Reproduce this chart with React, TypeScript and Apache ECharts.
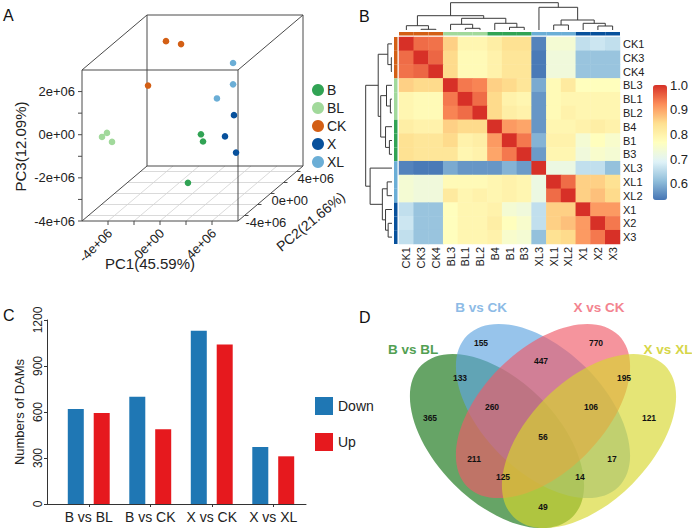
import React, { useEffect, useRef } from "react";
import * as echarts from "echarts";

const FONT = "'Liberation Sans', Arial, Helvetica, sans-serif";
const INK = "#222";

// ---------- A: PCA scores, [PC1, PC2, PC3] ----------
const pcaGroupNames = ["B", "BL", "CK", "X", "XL"];
const pcaGroupColors = ["#31a354", "#a1d99b", "#d35f15", "#08519c", "#6baed6"];
const pcaB = [[0.15e6, 1.0e6, -1.51e6], [0.81e6, 0.0, -1.59e6], [1.15e6, -3.0e6, -2.74e6]];
const pcaBL = [[-4.96e6, -4.0e6, -0.36e6], [-4.83e6, -3.5e6, -0.3e6], [-3.94e6, -4.5e6, -0.46e6]];
const pcaCK = [[-3.79e6, 3.5e6, 2.17e6], [-2.38e6, 3.0e6, 2.16e6], [-2.92e6, -1.0e6, 1.26e6]];
const pcaX = [[2.19e6, 2.0e6, -0.88e6], [2.0e6, 1.0e6, -1.61e6], [3.85e6, -1.0e6, -1.85e6]];
const pcaXL = [[1.12e6, 4.0e6, 1.03e6], [2.12e6, 2.0e6, 0.55e6], [1.38e6, 1.0e6, 0.15e6]];
const pcaPoints = [pcaB, pcaBL, pcaCK, pcaX, pcaXL];

const pc1Range = [-6e6, 6e6];
const pc2Range = [-5e6, 5e6];
const pc3Range = [-4e6, 3e6];
const pc1Ticks = [-4e6, -2e6, 0, 2e6, 4e6];
const pc2Ticks = [-4e6, -2e6, 0, 2e6, 4e6];
const pc3Ticks = [-4e6, -3e6, -2e6, -1e6, 0, 1e6, 2e6];
const pc1TickLabels = [-4e6, 0, 4e6];
const pc2TickLabels = [-4e6, 0, 4e6];
const pc3TickLabels = [-4e6, -2e6, 0, 2e6];
const pcAxisTitles = ["PC1(45.59%)", "PC2(21.66%)", "PC3(12.09%)"];

// ---------- B: sample correlation heatmap ----------
const hmLabels = ["CK1", "CK3", "CK4", "BL3", "BL1", "BL2", "B4", "B1", "B3", "XL3", "XL1", "XL2", "X1", "X2", "X3"];
const corr = [
  [1, 0.95, 0.945, 0.86, 0.79, 0.79, 0.81, 0.84, 0.84, 0.55, 0.74, 0.74, 0.66, 0.67, 0.66],
  [0.95, 1, 0.955, 0.85, 0.78, 0.78, 0.8, 0.83, 0.83, 0.54, 0.73, 0.73, 0.62, 0.62, 0.62],
  [0.945, 0.955, 1, 0.85, 0.78, 0.78, 0.8, 0.83, 0.83, 0.54, 0.73, 0.73, 0.62, 0.62, 0.62],
  [0.86, 0.85, 0.85, 1, 0.94, 0.93, 0.86, 0.85, 0.83, 0.59, 0.78, 0.82, 0.77, 0.77, 0.77],
  [0.79, 0.78, 0.78, 0.94, 1, 0.95, 0.85, 0.8, 0.79, 0.57, 0.78, 0.79, 0.79, 0.79, 0.79],
  [0.79, 0.78, 0.78, 0.93, 0.95, 1, 0.85, 0.81, 0.8, 0.57, 0.78, 0.8, 0.79, 0.79, 0.79],
  [0.81, 0.8, 0.8, 0.86, 0.85, 0.85, 1, 0.91, 0.9, 0.57, 0.79, 0.79, 0.8, 0.81, 0.8],
  [0.84, 0.83, 0.83, 0.85, 0.8, 0.81, 0.91, 1, 0.94, 0.6, 0.8, 0.8, 0.74, 0.77, 0.75],
  [0.84, 0.83, 0.83, 0.83, 0.79, 0.8, 0.9, 0.94, 1, 0.575, 0.79, 0.79, 0.73, 0.75, 0.74],
  [0.55, 0.54, 0.54, 0.59, 0.57, 0.57, 0.57, 0.6, 0.575, 1, 0.72, 0.72, 0.66, 0.66, 0.615],
  [0.74, 0.73, 0.73, 0.78, 0.78, 0.78, 0.79, 0.8, 0.79, 0.72, 1, 0.95, 0.86, 0.86, 0.84],
  [0.74, 0.73, 0.73, 0.82, 0.79, 0.8, 0.79, 0.8, 0.79, 0.72, 0.95, 1, 0.86, 0.875, 0.85],
  [0.66, 0.62, 0.62, 0.77, 0.79, 0.79, 0.8, 0.74, 0.73, 0.66, 0.86, 0.86, 1, 0.91, 0.91],
  [0.67, 0.62, 0.62, 0.77, 0.79, 0.79, 0.81, 0.77, 0.75, 0.66, 0.86, 0.875, 0.91, 1, 0.94],
  [0.66, 0.62, 0.62, 0.77, 0.79, 0.79, 0.8, 0.75, 0.74, 0.615, 0.84, 0.85, 0.91, 0.94, 1],
];
const corrMin = 0.535;
const corrMax = 1.0;
const rdylbu = ["#4575b4", "#91bfdb", "#e0f3f8", "#ffffbf", "#fee090", "#fc8d59", "#d73027"];
// hierarchical clustering: [left, right, height]; "#k" refers to merge k
const dendroMerges: [string, string, number][] = [
  ["CK3", "CK4", 0.7],
  ["CK1", "#0", 4.3],
  ["BL1", "BL2", 1.7],
  ["BL3", "#2", 5.7],
  ["B1", "B3", 2.7],
  ["B4", "#4", 6.7],
  ["#3", "#5", 11.7],
  ["#1", "#6", 14.3],
  ["XL1", "XL2", 5],
  ["X2", "X3", 4],
  ["X1", "#9", 6.7],
  ["#8", "#10", 10],
  ["XL3", "#11", 22.7],
  ["#7", "#12", 27.3],
];

// ---------- C: differential metabolites ----------
const comparisons = ["B vs BL", "B vs CK", "X vs CK", "X vs XL"];
const downCounts = [620, 700, 1130, 372];
const upCounts = [593, 488, 1040, 311];

// ---------- D: Venn ----------
const vennSetNames = ["B vs BL", "B vs CK", "X vs CK", "X vs XL"];
const vennCounts = [365, 155, 770, 121, 133, 447, 195, 260, 106, 56, 211, 17, 125, 14, 49];

// layout of the Venn diagram (pixels)
const vennEllipses = [
  { cx: 497, cy: 441, rot: -Math.PI / 4, fill: "rgba(20,115,20,0.65)" },
  { cx: 543, cy: 411, rot: -Math.PI / 4, fill: "rgba(95,165,225,0.65)" },
  { cx: 543, cy: 411, rot: Math.PI / 4, fill: "rgba(240,90,105,0.65)" },
  { cx: 589, cy: 441, rot: Math.PI / 4, fill: "rgba(215,215,45,0.65)" },
];
const vennRx = 107;
const vennRy = 61;
const vennTitlePos = [[413, 349], [481, 307], [599, 307], [668, 349]];
const vennTitleColors = ["#52a052", "#8dbbe6", "#f3838f", "#d6d648"];
const vennCountPos = [
  [430, 418], [481, 343], [596, 343], [649, 418], [460, 378], [541, 361], [624, 378],
  [492, 407], [591, 407], [543, 437], [474, 459], [612, 459], [503, 477], [580, 477], [543, 507],
];

// ---------- helpers ----------
const FRONT_W = 156 / 221;
const FRONT_H = 151 / 206;

function project(p: number[]): number[] {
  const fx = (p[0] - pc1Range[0]) / (pc1Range[1] - pc1Range[0]);
  const fy = (p[1] - pc2Range[0]) / (pc2Range[1] - pc2Range[0]);
  const fz = (p[2] - pc3Range[0]) / (pc3Range[1] - pc3Range[0]);
  return [fx * FRONT_W + fy * (1 - FRONT_W), fz * FRONT_H + fy * (1 - FRONT_H)];
}

function sci(v: number): string {
  if (v === 0) return "0e+00";
  return (v < 0 ? "-" : "") + Math.abs(v / 1e6) + "e+06";
}

function groupColor(label: string): string {
  const g = label.replace(/\d+$/, "");
  return pcaGroupColors[pcaGroupNames.indexOf(g)];
}

function dendroSegments() {
  const pos: Record<string, number> = {};
  const hgt: Record<string, number> = {};
  hmLabels.forEach((l, i) => {
    pos[l] = i + 0.5;
    hgt[l] = 0;
  });
  const segs: number[][] = [];
  dendroMerges.forEach(([a, b, h], k) => {
    segs.push([pos[a], pos[b], hgt[a], hgt[b], h]);
    pos["#" + k] = (pos[a] + pos[b]) / 2;
    hgt["#" + k] = h;
  });
  return segs;
}

function text(x: number, y: number, s: string, size: number, extra: any = {}) {
  return {
    type: "text",
    x,
    y,
    rotation: extra.rotation || 0,
    style: {
      text: s,
      fill: extra.fill || INK,
      fontSize: size,
      fontFamily: FONT,
      fontWeight: extra.fontWeight || "normal",
      align: extra.align || "center",
      verticalAlign: extra.verticalAlign || "middle",
    },
  };
}

function frameRenderItem(_params: any, api: any) {
  const P = (x: number, y: number, z: number) => api.coord(project([x, y, z]));
  const children: any[] = [];
  const line = (a: number[], b: number[], stroke: string, w: number) =>
    children.push({
      type: "line",
      shape: { x1: a[0], y1: a[1], x2: b[0], y2: b[1] },
      style: { stroke, lineWidth: w },
    });
  const [x0, x1] = pc1Range;
  const [y0, y1] = pc2Range;
  const [z0, z1] = pc3Range;
  // floor grid
  pc1Ticks.forEach((x) => line(P(x, y0, z0), P(x, y1, z0), "#d0d0d0", 0.8));
  pc2Ticks.forEach((y) => line(P(x0, y, z0), P(x1, y, z0), "#d0d0d0", 0.8));
  // box edges
  const edge = "#4a4a4a";
  [z0, z1].forEach((z) => {
    line(P(x0, y0, z), P(x1, y0, z), edge, 1);
    line(P(x0, y1, z), P(x1, y1, z), edge, 1);
    line(P(x0, y0, z), P(x0, y1, z), edge, 1);
    line(P(x1, y0, z), P(x1, y1, z), edge, 1);
  });
  [x0, x1].forEach((x) =>
    [y0, y1].forEach((y) => line(P(x, y, z0), P(x, y, z1), edge, 1))
  );
  // PC3 axis (front left vertical)
  pc3Ticks.forEach((z) => {
    const p = P(x0, y0, z);
    line([p[0] - 4, p[1]], p, edge, 1);
  });
  pc3TickLabels.forEach((z) => {
    const p = P(x0, y0, z);
    children.push(text(p[0] - 7, p[1], sci(z), 13, { align: "right" }));
  });
  // PC1 axis (front bottom edge)
  pc1Ticks.forEach((x) => {
    const p = P(x, y0, z0);
    line(p, [p[0], p[1] + 4], edge, 1);
  });
  pc1TickLabels.forEach((x) => {
    const p = P(x, y0, z0);
    children.push(text(p[0] + 2, p[1] + 10, sci(x), 13, { align: "right", rotation: Math.PI / 4 }));
  });
  // PC2 axis (right bottom depth edge)
  pc2Ticks.forEach((y) => {
    const p = P(x1, y, z0);
    line(p, [p[0] + 4, p[1]], edge, 1);
  });
  pc2TickLabels.forEach((y) => {
    const p = P(x1, y, z0);
    children.push(text(p[0] + 1, p[1] + 7, sci(y), 13, { align: "left" }));
  });
  // axis titles
  const pc1Mid = P(0, y0, z0);
  children.push(text(pc1Mid[0] - 10, pc1Mid[1] + 42, pcAxisTitles[0], 15));
  const pc2Mid = P(x1, 0, z0);
  children.push(text(pc2Mid[0] + 40, pc2Mid[1] + 28, pcAxisTitles[1], 14, { rotation: Math.atan2(54, 65) }));
  const pc3Mid = P(x0, y0, (z0 + z1) / 2);
  children.push(text(pc3Mid[0] - 62, pc3Mid[1] + 1, pcAxisTitles[2], 15, { rotation: Math.PI / 2 }));
  return { type: "group", children };
}

function buildOption(): any {
  const heatData: number[][] = [];
  corr.forEach((row, r) => row.forEach((v, c) => heatData.push([c, r, v])));
  const segs = dendroSegments();
  const hidden = (gridIndex: number, min: number, max: number, extra: any = {}) => ({
    gridIndex,
    type: "value",
    min,
    max,
    show: false,
    splitLine: { show: false },
    ...extra,
  });

  const pointSeries = pcaPoints.map((pts, g) => ({
    type: "custom",
    name: pcaGroupNames[g],
    xAxisIndex: 0,
    yAxisIndex: 0,
    itemStyle: { color: pcaGroupColors[g] },
    data: pts,
    renderItem: (_p: any, api: any) => {
      const c = api.coord(project([api.value(0), api.value(1), api.value(2)]));
      return { type: "circle", shape: { cx: c[0], cy: c[1], r: 3.3 }, style: { fill: pcaGroupColors[g] } };
    },
  }));

  const vennGraphics: any[] = [];
  vennEllipses.forEach((e) =>
    vennGraphics.push({
      type: "ellipse",
      x: e.cx,
      y: e.cy,
      rotation: e.rot,
      shape: { cx: 0, cy: 0, rx: vennRx, ry: vennRy },
      style: { fill: e.fill },
    })
  );
  vennSetNames.forEach((n, i) =>
    vennGraphics.push(text(vennTitlePos[i][0], vennTitlePos[i][1], n, 13.5, { fontWeight: "bold", fill: vennTitleColors[i] }))
  );
  vennCounts.forEach((n, i) =>
    vennGraphics.push(text(vennCountPos[i][0], vennCountPos[i][1], String(n), 8.5, { fontWeight: "bold", fill: "#111" }))
  );

  const panelLetter = (s: string, left: number, top: number) => ({
    type: "text",
    left,
    top,
    style: { text: s, fontSize: 16, fontFamily: FONT, fill: "#111" },
  });

  return {
    animation: false,
    backgroundColor: "#fff",
    textStyle: { fontFamily: FONT },
    grid: [
      { left: 82, top: 15, width: 221, height: 206 }, // 0 A
      { left: 399, top: 37, width: 221, height: 207 }, // 1 heatmap
      { left: 399, top: 2, width: 221, height: 28 }, // 2 top dendrogram
      { left: 365, top: 37, width: 27, height: 207 }, // 3 left dendrogram
      { left: 399, top: 32, width: 221, height: 3.5 }, // 4 top annotation
      { left: 394, top: 37, width: 3.5, height: 207 }, // 5 left annotation
      { left: 653, top: 85, width: 14, height: 115 }, // 6 colour key labels
      { left: 47, top: 320, width: 259, height: 184 }, // 7 C axes
      { left: 58, top: 320, width: 246, height: 184 }, // 8 C bars
    ],
    xAxis: [
      hidden(0, 0, 1),
      {
        gridIndex: 1,
        type: "category",
        data: hmLabels,
        axisLine: { show: false },
        axisTick: { show: false },
        axisLabel: { rotate: 90, fontSize: 11, margin: 3, color: INK, interval: 0 },
      },
      hidden(2, 0, hmLabels.length),
      hidden(3, 0, 28, { inverse: true }),
      { gridIndex: 4, type: "category", data: hmLabels, show: false },
      hidden(5, 0, 1),
      hidden(6, 0, 1),
      {
        gridIndex: 7,
        type: "value",
        min: 0,
        max: 1,
        axisLine: { show: true, lineStyle: { color: "#333", width: 1 } },
        axisTick: { show: false },
        axisLabel: { show: false },
        splitLine: { show: false },
      },
      {
        gridIndex: 8,
        type: "category",
        data: comparisons,
        axisLine: { show: false },
        axisTick: { show: true, alignWithLabel: true, length: 3, lineStyle: { color: "#333" } },
        axisLabel: { fontSize: 14, margin: 6, color: INK, interval: 0 },
      },
    ],
    yAxis: [
      hidden(0, 0, 1),
      {
        gridIndex: 1,
        type: "category",
        data: hmLabels,
        inverse: true,
        position: "right",
        axisLine: { show: false },
        axisTick: { show: false },
        axisLabel: { fontSize: 11, margin: 3, color: INK, interval: 0 },
      },
      hidden(2, 0, 28),
      hidden(3, 0, hmLabels.length, { inverse: true }),
      hidden(4, 0, 1),
      { gridIndex: 5, type: "category", data: hmLabels, inverse: true, show: false },
      {
        gridIndex: 6,
        type: "value",
        min: corrMin,
        max: corrMax,
        position: "right",
        axisLine: { show: false },
        axisTick: { show: false },
        splitLine: { show: false },
        axisLabel: { fontSize: 13, margin: 3, color: INK, showMinLabel: false, formatter: (v: number) => v.toFixed(1) },
      },
      {
        gridIndex: 7,
        type: "value",
        min: 0,
        max: 1200,
        interval: 300,
        name: "Numbers of DAMs",
        nameLocation: "middle",
        nameGap: 21,
        nameRotate: 90,
        nameTextStyle: { fontSize: 13, color: INK },
        axisLine: { show: true, lineStyle: { color: "#333", width: 1 } },
        axisTick: { show: true, length: 3, lineStyle: { color: "#333" } },
        axisLabel: { rotate: 90, fontSize: 12, margin: 3, color: INK, formatter: (v: number) => String(v) },
        splitLine: { show: false },
      },
      hidden(8, 0, 1200),
    ],
    visualMap: {
      type: "continuous",
      min: corrMin,
      max: corrMax,
      seriesIndex: 6,
      calculable: false,
      hoverLink: false,
      orient: "vertical",
      left: 653,
      top: 85,
      padding: 0,
      itemWidth: 14,
      itemHeight: 115,
      inRange: { color: rdylbu },
    },
    legend: [
      {
        data: pcaGroupNames,
        orient: "vertical",
        left: 312,
        top: 83,
        padding: 0,
        icon: "circle",
        itemWidth: 12,
        itemHeight: 12,
        itemGap: 4,
        selectedMode: false,
        textStyle: { fontSize: 14, color: INK, padding: [0, 0, 0, -2] },
      },
      {
        data: ["Down", "Up"],
        orient: "vertical",
        left: 315,
        top: 397,
        padding: 0,
        icon: "rect",
        itemWidth: 18,
        itemHeight: 18,
        itemGap: 18,
        selectedMode: false,
        textStyle: { fontSize: 14, color: INK },
      },
    ],
    series: [
      {
        type: "custom",
        name: "frame",
        xAxisIndex: 0,
        yAxisIndex: 0,
        data: [[0.5, 0.5]],
        renderItem: frameRenderItem,
        silent: true,
      },
      ...pointSeries,
      {
        type: "heatmap",
        name: "correlation",
        xAxisIndex: 1,
        yAxisIndex: 1,
        data: heatData,
        itemStyle: { borderWidth: 0 },
        silent: true,
      },
      {
        type: "custom",
        name: "colDendro",
        xAxisIndex: 2,
        yAxisIndex: 2,
        data: segs,
        silent: true,
        renderItem: (_p: any, api: any) => {
          const [a, b, ha, hb, h] = [0, 1, 2, 3, 4].map((i) => api.value(i));
          const pts = [[a, ha], [a, h], [b, h], [b, hb]].map((q) => api.coord(q));
          return { type: "polyline", shape: { points: pts }, style: { stroke: "#3a3a3a", lineWidth: 1, fill: "none" } };
        },
      },
      {
        type: "custom",
        name: "rowDendro",
        xAxisIndex: 3,
        yAxisIndex: 3,
        data: segs,
        silent: true,
        renderItem: (_p: any, api: any) => {
          const [a, b, ha, hb, h] = [0, 1, 2, 3, 4].map((i) => api.value(i));
          const pts = [[ha, a], [h, a], [h, b], [hb, b]].map((q) => api.coord(q));
          return { type: "polyline", shape: { points: pts }, style: { stroke: "#3a3a3a", lineWidth: 1, fill: "none" } };
        },
      },
      {
        type: "custom",
        name: "colAnno",
        xAxisIndex: 4,
        yAxisIndex: 4,
        data: hmLabels.map((_l, i) => [i, 0]),
        silent: true,
        renderItem: (_p: any, api: any) => {
          const i = api.value(0);
          const t = api.coord([i, 1]);
          const b = api.coord([i, 0]);
          const w = api.size([1, 0])[0];
          return {
            type: "rect",
            shape: { x: t[0] - w / 2, y: t[1], width: w, height: b[1] - t[1] },
            style: { fill: groupColor(hmLabels[i]) },
          };
        },
      },
      {
        type: "custom",
        name: "rowAnno",
        xAxisIndex: 5,
        yAxisIndex: 5,
        data: hmLabels.map((_l, i) => [0, i]),
        silent: true,
        renderItem: (_p: any, api: any) => {
          const i = api.value(1);
          const l = api.coord([0, i]);
          const r = api.coord([1, i]);
          const h = api.size([0, 1])[1];
          return {
            type: "rect",
            shape: { x: l[0], y: l[1] - h / 2, width: r[0] - l[0], height: h },
            style: { fill: groupColor(hmLabels[i]) },
          };
        },
      },
      {
        type: "bar",
        name: "Down",
        xAxisIndex: 8,
        yAxisIndex: 8,
        data: downCounts,
        barWidth: 16,
        barGap: "62%",
        itemStyle: { color: "#1f77b4" },
        silent: true,
      },
      {
        type: "bar",
        name: "Up",
        xAxisIndex: 8,
        yAxisIndex: 8,
        data: upCounts,
        barWidth: 16,
        barGap: "62%",
        itemStyle: { color: "#e6191e" },
        silent: true,
      },
    ],
    graphic: [
      panelLetter("A", 3, 7),
      panelLetter("B", 359, 8),
      panelLetter("C", 3, 307),
      panelLetter("D", 359, 309),
      ...vennGraphics,
    ],
  };
}

export default function App() {
  const ref = useRef<HTMLDivElement>(null);
  useEffect(() => {
    const chart = echarts.init(ref.current as HTMLDivElement, null, { renderer: "svg" });
    chart.setOption(buildOption());
    return () => chart.dispose();
  }, []);
  return (
    <div
      ref={ref}
      style={{ position: "fixed", left: 0, top: 0, width: 692, height: 530, background: "#fff" }}
    />
  );
}
